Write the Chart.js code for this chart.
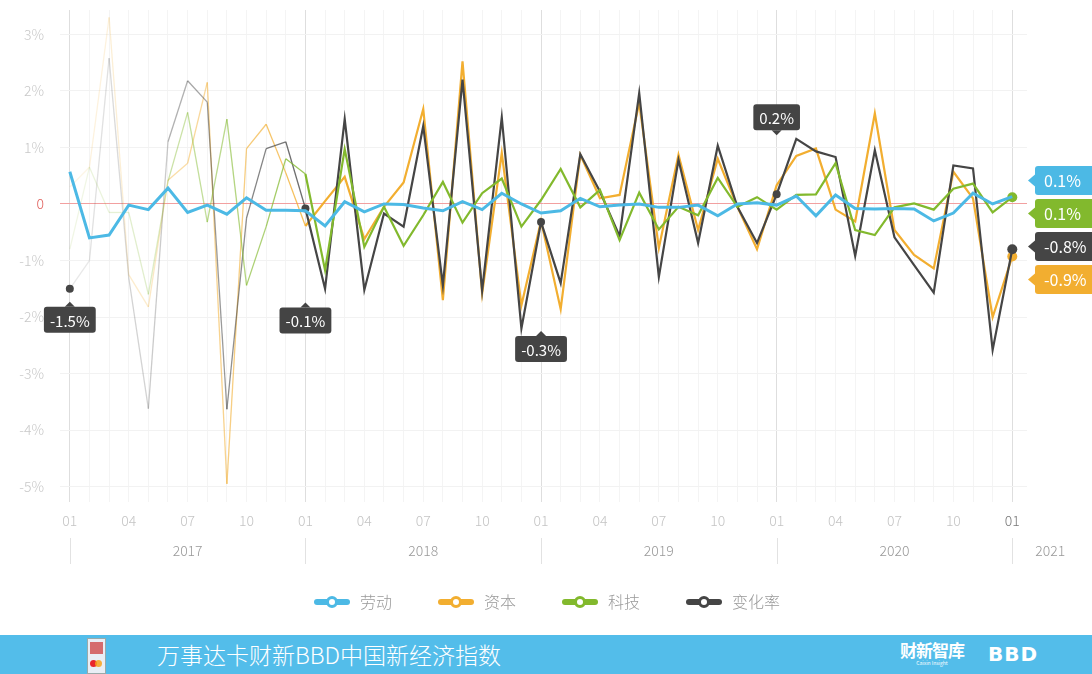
<!DOCTYPE html>
<html>
<head>
<meta charset="utf-8">
<script src="https://cdn.jsdelivr.net/npm/chart.js@4.4.1/dist/chart.umd.min.js"></script>
<style>
  html, body { margin: 0; padding: 0; background: #fff; overflow: hidden; }
  #wrap { position: relative; width: 1092px; height: 635px; }
  #banner { position: absolute; left: 0; top: 635px; width: 1092px; height: 39px; background: #53bdea; color: #fff;
            font-family: "Noto Sans CJK SC", sans-serif; }
  #banner .title { position: absolute; left: 157px; top: 3px; font-size: 23px; line-height: 32px; font-weight: 300; }
  #banner .logo { position: absolute; left: 87px; top: 3px; width: 17px; height: 34px; background: #e9eef5; border: 1px solid #9aa; }
  #banner .logo b { position: absolute; left: 2px; top: 3px; width: 13px; height: 12px; background: #c33; opacity: .7; }
  #banner .logo i { position: absolute; top: 21px; width: 7px; height: 7px; border-radius: 50%; }
  #banner .cx { position: absolute; left: 900px; top: 5px; font-size: 17px; line-height: 20px; font-weight: 700; letter-spacing: -1px; }
  #banner .cx small { display: block; font-size: 5px; line-height: 6px; font-weight: 400; text-align: center; letter-spacing: 0; }
  #banner .bbd { position: absolute; left: 988px; top: 6px; font-family: "DejaVu Sans", sans-serif; font-size: 20px; line-height: 26px; font-weight: 900; letter-spacing: 1px; }
</style>
</head>
<body>
<div id="wrap"><canvas id="line-chart0" width="1092" height="635"></canvas></div>
<div id="banner">
  <div class="logo"><b></b><i style="left:2px;background:#e8262c"></i><i style="left:7px;background:#f7a21b;opacity:.85"></i></div>
  <div class="title">万事达卡财新BBD中国新经济指数</div>
  <div class="cx">财新智库<small>Caixin Insight</small></div>
  <div class="bbd">BBD</div>
</div>
<script>
var periods = [
    "2017-01", "2017-02", "2017-03", "2017-04", "2017-05", "2017-06", "2017-07", "2017-08", "2017-09", "2017-10", "2017-11", "2017-12",
    "2018-01", "2018-02", "2018-03", "2018-04", "2018-05", "2018-06", "2018-07", "2018-08", "2018-09", "2018-10", "2018-11", "2018-12",
    "2019-01", "2019-02", "2019-03", "2019-04", "2019-05", "2019-06", "2019-07", "2019-08", "2019-09", "2019-10", "2019-11", "2019-12",
    "2020-01", "2020-02", "2020-03", "2020-04", "2020-05", "2020-06", "2020-07", "2020-08", "2020-09", "2020-10", "2020-11", "2020-12",
    "2021-01"
];
var years = ["2017", "2018", "2019", "2020", "2021"];
var yTicks = [-5, -4, -3, -2, -1, 0, 1, 2, 3];

// 劳动
var labour = [
    0.57, -0.6, -0.55, -0.02, -0.1, 0.28, -0.15, -0.02, -0.18, 0.11, -0.11, -0.11,
    -0.12, -0.39, 0.04, -0.14, 0.0, -0.01, -0.07, -0.12, 0.04, -0.1, 0.19, 0.0,
    -0.16, -0.12, 0.1, -0.05, -0.02, 0.0, -0.06, -0.06, -0.02, -0.21, 0.0, 0.02,
    -0.02, 0.14, -0.21, 0.16, -0.08, -0.09, -0.08, -0.09, -0.3, -0.16, 0.19, 0.0,
    0.13
];
// 资本
var capital = [
    0.3, 0.65, 3.3, -1.25, -1.82, 0.42, 0.72, 2.15, -4.95, 0.98, 1.41, 0.55,
    -0.39, 0.05, 0.48, -0.62, -0.05, 0.38, 1.68, -1.7, 2.52, -1.58, 0.9, -1.79,
    -0.3, -1.86, 0.87, 0.1, 0.16, 1.79, -0.78, 0.87, -0.46, 0.8, -0.05, -0.8,
    0.33, 0.85, 0.98, -0.1, -0.31, 1.6, -0.46, -0.9, -1.14, 0.57, 0.1, -2.0,
    -0.93
];
// 科技
var tech = [
    -0.8, 0.65, -0.15, -0.15, -1.6, 0.4, 1.62, -0.32, 1.5, -1.44, -0.4, 0.8,
    0.53, -1.17, 0.97, -0.76, -0.05, -0.74, -0.2, 0.39, -0.33, 0.19, 0.45, -0.4,
    0.07, 0.62, -0.06, 0.25, -0.64, 0.2, -0.45, -0.05, -0.2, 0.46, -0.05, 0.12,
    -0.1, 0.16, 0.17, 0.72, -0.46, -0.55, -0.06, 0.01, -0.1, 0.27, 0.36, -0.15,
    0.12
];
// 变化率
var change = [
    -1.5, -1.0, 2.58, -1.3, -3.62, 1.1, 2.18, 1.8, -3.63, -0.25, 0.98, 1.1,
    -0.08, -1.5, 1.5, -1.52, -0.17, -0.4, 1.38, -1.44, 2.2, -1.53, 1.53, -2.2,
    -0.32, -1.4, 0.88, 0.22, -0.57, 1.96, -1.29, 0.78, -0.69, 1.03, -0.05, -0.69,
    0.17, 1.15, 0.93, 0.83, -0.92, 0.95, -0.59, -1.08, -1.57, 0.68, 0.63, -2.58,
    -0.8
];

var BLUE = '#4cb9e5', ORANGE = '#f2ae30', GREEN = '#82b92d', GREY = '#454545';
var font = '"Noto Sans CJK SC", "Noto Sans", sans-serif';
var last = periods.length - 1;

function points(arr) {
    return arr.map(function (v, i) { return { x: i, y: v }; });
}

function rgba(hex, a) {
    var n = parseInt(hex.slice(1), 16);
    return 'rgba(' + (n >> 16) + ',' + ((n >> 8) & 255) + ',' + (n & 255) + ',' + a + ')';
}

// 2017 part of the thin series fades in
function fade(hex) {
    return {
        borderColor: function (ctx) {
            var i = ctx.p0DataIndex;
            if (i >= 12) return hex;
            var a = i < 5 ? 0.12 + i * 0.04 : 0.42 + (i - 5) * 0.06;
            return rgba(hex, a);
        },
        borderWidth: function (ctx) { return ctx.p0DataIndex < 12 ? 1.3 : 2.2; }
    };
}

function legendIcon(color) {
    var c = document.createElement('canvas');
    c.width = 36; c.height = 14;
    var g = c.getContext('2d');
    g.strokeStyle = color; g.lineWidth = 6; g.lineCap = 'round';
    g.beginPath(); g.moveTo(3, 7); g.lineTo(33, 7); g.stroke();
    g.fillStyle = '#fff'; g.lineWidth = 3;
    g.beginPath(); g.arc(18, 7, 4.5, 0, Math.PI * 2); g.fill(); g.stroke();
    return c;
}

function greyRadius(ctx) {
    var i = ctx.dataIndex;
    if (i === last) return 5;
    return i % 12 === 0 ? 4 : 0;
}
function endRadius(ctx) { return ctx.dataIndex === last ? 5 : 0; }

function roundRect(g, x, y, w, h, r) {
    g.beginPath();
    g.moveTo(x + r, y); g.lineTo(x + w - r, y); g.quadraticCurveTo(x + w, y, x + w, y + r);
    g.lineTo(x + w, y + h - r); g.quadraticCurveTo(x + w, y + h, x + w - r, y + h);
    g.lineTo(x + r, y + h); g.quadraticCurveTo(x, y + h, x, y + h - r);
    g.lineTo(x, y + r); g.quadraticCurveTo(x, y, x + r, y);
    g.closePath();
}

function noPadding(s) {
    s.paddingTop = 0; s.paddingBottom = 0; s.paddingLeft = 0; s.paddingRight = 0;
}

// year row under the month ticks
var yearRow = {
    id: 'yearRow',
    afterDraw: function (chart) {
        var g = chart.ctx, xs = chart.scales.x;
        g.save();
        g.font = '300 14px ' + font;
        g.textAlign = 'center'; g.textBaseline = 'middle';
        years.forEach(function (yr, k) {
            var x0 = xs.getPixelForValue(k * 12);
            var x1 = k < years.length - 1 ? xs.getPixelForValue((k + 1) * 12) : chart.width - 4;
            g.strokeStyle = '#e2e2e2'; g.lineWidth = 1;
            g.beginPath(); g.moveTo(Math.round(x0) + 0.5, 538); g.lineTo(Math.round(x0) + 0.5, 564); g.stroke();
            g.fillStyle = '#999';
            g.fillText(yr, (x0 + x1) / 2, 551);
        });
        g.restore();
    }
};

// dark callouts on the yearly points of 变化率 and the value tags at the end
var tags = {
    id: 'tags',
    afterDatasetsDraw: function (chart) {
        var g = chart.ctx, xs = chart.scales.x, ys = chart.scales.y;
        var offsets = [31, 112, 127, -77];
        g.save();
        g.font = '15px ' + font;
        g.textAlign = 'center'; g.textBaseline = 'middle';
        offsets.forEach(function (off, k) {
            var i = k * 12;
            var px = xs.getPixelForValue(i), py = ys.getPixelForValue(change[i]);
            var txt = change[i].toFixed(1) + '%';
            var w = g.measureText(txt).width + 12, h = 26, cy = py + off;
            g.fillStyle = '#444';
            roundRect(g, px - w / 2, cy - h / 2, w, h, 3); g.fill();
            g.beginPath();
            if (off > 0) { g.moveTo(px - 5, cy - h / 2); g.lineTo(px, cy - h / 2 - 5); g.lineTo(px + 5, cy - h / 2); }
            else { g.moveTo(px - 5, cy + h / 2); g.lineTo(px, cy + h / 2 + 5); g.lineTo(px + 5, cy + h / 2); }
            g.fill();
            g.fillStyle = '#fff';
            g.fillText(txt, px, cy + 1);
        });

        var ends = chart.data.datasets.map(function (ds) {
            var v = ds.data[last].y;
            return { v: v, color: ds.borderColor, py: ys.getPixelForValue(v) };
        }).sort(function (a, b) { return b.v - a.v; });
        var mid = ends.reduce(function (s, e) { return s + e.py; }, 0) / ends.length + 5;
        var left = chart.chartArea.right + 8;
        g.font = '16px ' + font;
        g.textAlign = 'left';
        ends.forEach(function (e, k) {
            var cy = mid + (k - (ends.length - 1) / 2) * 33;
            g.fillStyle = e.color;
            roundRect(g, left, cy - 14.5, 70, 29, 3); g.fill();
            g.beginPath(); g.moveTo(left, cy - 6); g.lineTo(left - 7, cy); g.lineTo(left, cy + 6); g.fill();
            g.fillStyle = '#fff';
            g.fillText(e.v.toFixed(1) + '%', left + 9, cy + 1);
        });
        g.restore();
    }
};

var chartData = {
    datasets: [{
        label: "劳动",
        data: points(labour),
        borderColor: BLUE,
        backgroundColor: BLUE,
        borderWidth: 3,
        pointRadius: 0,
        order: 0
    }, {
        label: "资本",
        data: points(capital),
        borderColor: ORANGE,
        backgroundColor: ORANGE,
        segment: fade(ORANGE),
        pointRadius: endRadius,
        order: 3
    }, {
        label: "科技",
        data: points(tech),
        borderColor: GREEN,
        backgroundColor: GREEN,
        segment: fade(GREEN),
        pointRadius: endRadius,
        order: 1
    }, {
        label: "变化率",
        data: points(change),
        borderColor: GREY,
        backgroundColor: GREY,
        segment: fade(GREY),
        pointRadius: greyRadius,
        order: 2
    }]
};

var chartOptions = {
    animation: false,
    responsive: false,
    layout: { padding: { top: 10, right: 0, bottom: 15, left: 0 } },
    elements: {
        line: { tension: 0, borderJoinStyle: 'miter' },
        point: { borderWidth: 0, hoverRadius: 0 }
    },
    plugins: {
        tooltip: { enabled: false },
        legend: {
            display: true,
            position: 'bottom',
            labels: {
                usePointStyle: true,
                pointStyleWidth: 40,
                padding: 44,
                color: '#999',
                font: { family: font, size: 16, weight: '300' },
                generateLabels: function (chart) {
                    return chart.data.datasets.map(function (ds, i) {
                        return {
                            text: ds.label,
                            pointStyle: legendIcon(ds.borderColor),
                            fillStyle: ds.borderColor,
                            strokeStyle: ds.borderColor,
                            lineWidth: 0,
                            fontColor: '#999',
                            hidden: !chart.isDatasetVisible(i),
                            datasetIndex: i
                        };
                    });
                }
            }
        }
    },
    scales: {
        x: {
            type: 'linear',
            min: -0.5,
            max: 48.75,
            afterBuildTicks: function (s) { s.ticks = periods.map(function (p, i) { return { value: i }; }); },
            afterFit: function (s) { s.height = 48; noPadding(s); },
            ticks: {
                autoSkip: false,
                maxRotation: 0,
                padding: 10,
                font: { family: font, size: 14, weight: '300' },
                color: function (ctx) { return ctx.index === last ? '#777' : '#c4c4c4'; },
                callback: function (v) { return v % 3 === 0 ? periods[v].slice(5) : ''; }
            },
            grid: {
                drawTicks: false,
                color: function (ctx) { return ctx.tick && ctx.tick.value % 12 === 0 ? '#dedede' : '#f4f4f4'; }
            },
            border: { display: false }
        },
        y: {
            min: -5.27,
            max: 3.43,
            afterBuildTicks: function (s) { s.ticks = yTicks.map(function (v) { return { value: v }; }); },
            afterFit: function (s) { s.width = 60; noPadding(s); },
            ticks: {
                padding: 16,
                font: { family: font, size: 14, weight: '300' },
                color: function (ctx) { return ctx.tick.value === 0 ? '#e0605c' : '#c8c8c8'; },
                callback: function (v) { return v === 0 ? '0' : v + '%'; }
            },
            grid: {
                drawTicks: false,
                color: function (ctx) { return ctx.tick && ctx.tick.value === 0 ? '#f2a0a0' : '#f2f2f2'; }
            },
            border: { display: false }
        },
        tagSpace: {
            position: 'right',
            min: 0,
            max: 1,
            afterFit: function (s) { s.width = 65; noPadding(s); },
            ticks: { display: false },
            grid: { display: false },
            border: { display: false }
        }
    }
};

var lineChart = new Chart(document.getElementById("line-chart0"), {
    type: 'line',
    data: chartData,
    options: chartOptions,
    plugins: [yearRow, tags]
});
</script>
</body>
</html>
